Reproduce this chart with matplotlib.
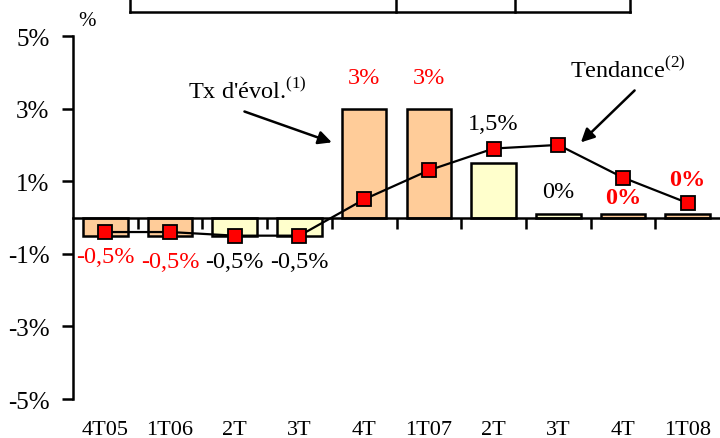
import matplotlib.pyplot as plt
from matplotlib.lines import Line2D
from matplotlib.transforms import blended_transform_factory

plt.rcParams['font.family'] = ['Liberation Serif', 'DejaVu Serif']
plt.rcParams['mathtext.fontset'] = 'custom'
plt.rcParams['mathtext.rm'] = 'Liberation Serif'

# data
quarters = ['4T05', '1T06', '2T', '3T', '4T', '1T07', '2T', '3T', '4T', '1T08']
evol = [-0.5, -0.5, -0.5, -0.5, 3.0, 3.0, 1.5, 0.1, 0.1, 0.1]
trend = [-0.4, -0.4, -0.5, -0.5, 0.5, 1.3, 1.9, 2.0, 1.1, 0.4]
bar_kind = ['o', 'o', 'y', 'y', 'o', 'o', 'y', 'y', 'o', 'o']
labels = ['-0,5%', '-0,5%', '-0,5%', '-0,5%', '3%', '3%', '1,5%', '0%', '0%', '0%']
label_y = [-1.07, -1.22, -1.22, -1.22, 3.86, 3.86, 2.6, 0.72, 0.55, 1.05]
label_red = [True, True, False, False, True, True, False, False, True, True]
label_bold = [False, False, False, False, False, False, False, False, True, True]
yticks = [5, 3, 1, -1, -3, -5]

colors = {'o': '#FFCC99', 'y': '#FFFFCC'}

fig = plt.figure(figsize=(7.2, 4.39), dpi=100)
ax = fig.add_axes([0.1014, 0.0888, 0.8986, 0.8269])

x = list(range(len(quarters)))
ax.bar(x, evol, width=0.69, color=[colors[k] for k in bar_kind],
       edgecolor='black', linewidth=1.8, zorder=2)
ax.plot(x, trend, color='black', linewidth=1.6, marker='s', markersize=10,
        markerfacecolor='#FF0000', markeredgecolor='black', markeredgewidth=1.3, zorder=3)

for xi, lab, ly, red, bold in zip(x, labels, label_y, label_red, label_bold):
    ax.text(xi, ly, lab, ha='center', va='center', fontsize=17.5,
            color='#FF0000' if red else 'black',
            fontweight='bold' if bold else 'normal')

ax.set_xlim(-0.5, 9.5)
ax.set_ylim(-5, 5)
ax.set_yticks(yticks)
ax.set_yticklabels([f'{t}%' for t in yticks], fontsize=18)
ax.tick_params(axis='y', direction='out', length=8, width=1.8, pad=9)

ax.spines['top'].set_visible(False)
ax.spines['right'].set_visible(False)
ax.spines['left'].set_linewidth(1.8)
ax.spines['bottom'].set_position(('data', 0))
ax.spines['bottom'].set_linewidth(1.8)
ax.set_xticks([i + 0.5 for i in range(len(quarters) - 1)])
ax.set_xticklabels([])
ax.tick_params(axis='x', direction='out', length=8, width=1.8)

trans = blended_transform_factory(ax.transData, ax.transAxes)
for xi, q in zip(x, quarters):
    ax.text(xi, -0.085, q, transform=trans, ha='center', va='center', fontsize=16)

arrow = dict(arrowstyle='-|>', color='black', lw=1.8, mutation_scale=20, shrinkA=0, shrinkB=0)
ax.annotate('', xy=(3.5, 2.07), xytext=(2.15, 2.92), arrowprops=arrow)
ax.text(2.2, 3.52, r"Tx d'évol.$^{\rm (1)}$", ha='center', va='center', fontsize=17.5)
ax.annotate('', xy=(7.35, 2.07), xytext=(8.18, 3.5), arrowprops=arrow)
ax.text(8.07, 4.08, r"Tendance$^{\rm (2)}$", ha='center', va='center', fontsize=17.5)

fig.text(87 / 720, 1 - 22 / 439, '%', fontsize=15, ha='center', va='center')

# fragment of the table above the chart
W, H = 720, 439
y_line = 1 - 13 / H
fig.add_artist(Line2D([130 / W, 630 / W], [y_line, y_line], color='black', lw=1.8))
for xp in [130, 396, 515, 630]:
    fig.add_artist(Line2D([xp / W, xp / W], [y_line, 1.0], color='black', lw=1.8))

fig.savefig('out.png', dpi=100)
